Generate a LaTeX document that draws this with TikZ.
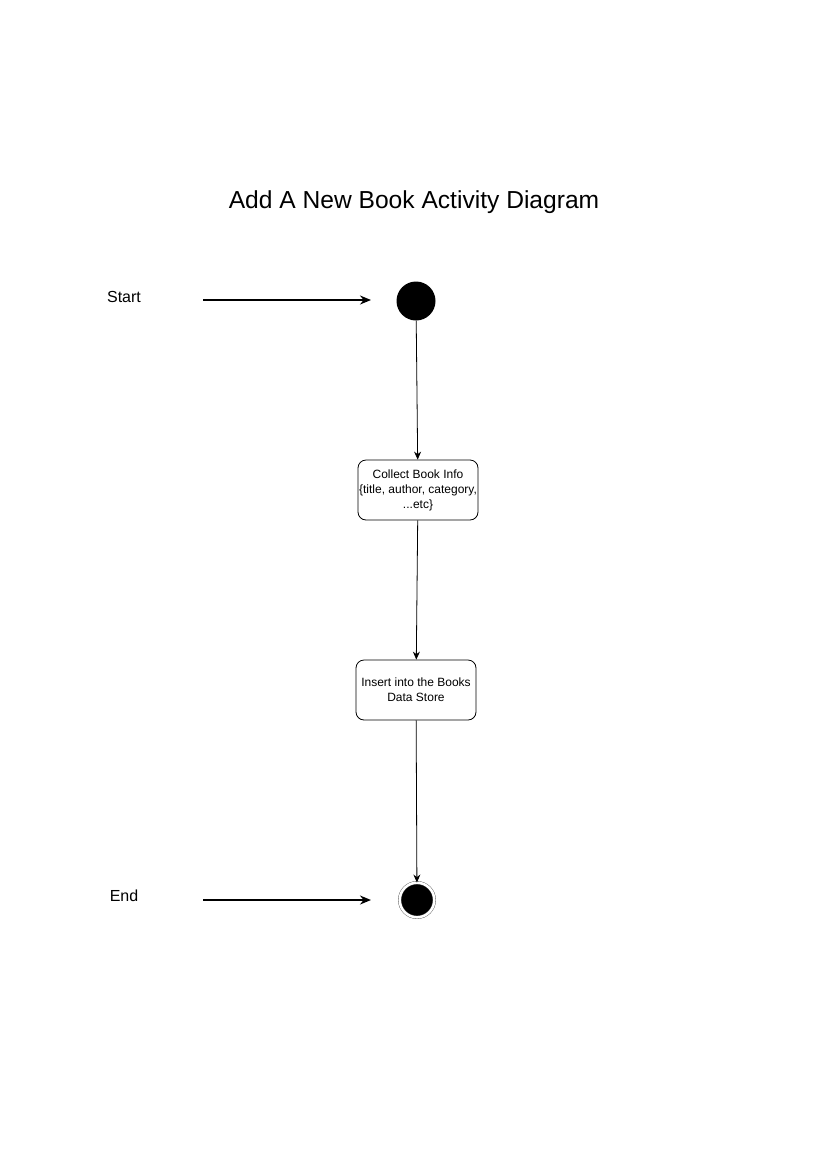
\documentclass[tikz,border=0pt]{standalone}
\usepackage{fontspec}
\setmainfont{Liberation Sans}
\usetikzlibrary{positioning,arrows.meta}
\tikzstyle{pagePixels} = [x = 1pt, y = -1pt]
\tikzstyle{activityStyle} = [draw=black, fill=white, rounded corners = 8pt, minimum width = 120pt, minimum height = 60pt, align=center, inner sep = 1pt, line width = 0.8pt, font=\fontsize{12}{15}\selectfont]
\tikzstyle{initialState} = [circle, fill=black, minimum size = 39pt, inner sep = 0pt]
\tikzstyle{finalState} = [circle, fill=black, draw=black!65, line width = 0.4pt, double=white, double distance = 2.5pt, minimum size = 34.6pt, inner sep = 0pt]
\tikzstyle{flowLine} = [line width = 0.8pt, -{Stealth[length = 8pt, width = 7pt]}]
\tikzstyle{pointerLine} = [line width = 1.6pt, -{Stealth[length = 11pt, width = 9pt]}]
\tikzstyle{sideLabel} = [font=\fontsize{16}{19}\selectfont]
\begin{document}
\begin{tikzpicture}[pagePixels]
        \useasboundingbox (0,0) rectangle (828,1170);
        % title
        \node [font=\fontsize{24.6}{28}\selectfont] (title) at (414,202) {Add A New Book Activity Diagram};

        % states and activities
        \node [initialState] (initial) at (416,301) {};
        \node [activityStyle] (collect) at (418,490) {Collect Book Info\\\{title, author, category,\\...etc\}};
        \node [activityStyle] (insert) at (416,690) {Insert into the Books\\Data Store};
        \node [finalState] (final) at (417,900) {};

        \draw [flowLine] (initial) -- (collect);
        \draw [flowLine] (collect) -- (insert);
        \draw [flowLine] (insert) -- (final);

        % side pointers
        \node [sideLabel] (startLabel) at (124,297) {Start};
        \coordinate (startTail) at (203,300);
        \coordinate (startHead) at (371,300);
        \draw [pointerLine] (startTail) -- (startHead);

        \node [sideLabel] (endLabel) at (124,896) {End};
        \coordinate (endTail) at (203,900);
        \coordinate (endHead) at (371,900);
        \draw [pointerLine] (endTail) -- (endHead);
      \end{tikzpicture}
\end{document}
